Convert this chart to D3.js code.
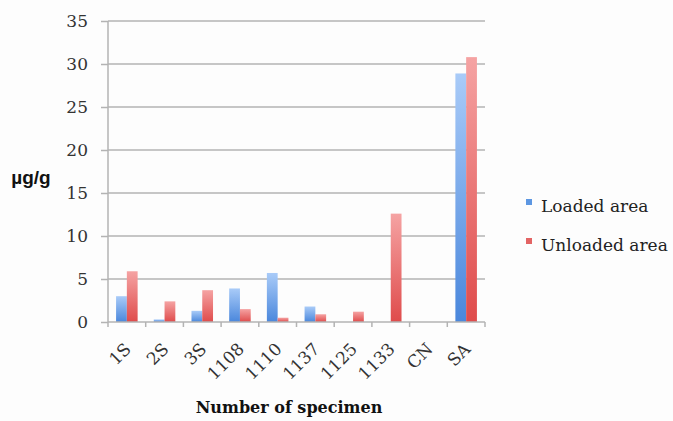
<!DOCTYPE html>
<html>
<head>
<meta charset="utf-8">
<script src="https://cdn.jsdelivr.net/npm/d3@7"></script>
<style>
  html, body { margin: 0; padding: 0; background: #fdfdfd; }
  svg { display: block; }
</style>
</head>
<body>
<script>
// Specimens and measured concentrations (µg/g)
const specimens = ["1S", "2S", "3S", "1108", "1110", "1137", "1125", "1133", "CN", "SA"];
const loadedArea = [3.0, 0.3, 1.3, 3.9, 5.7, 1.8, 0, 0, 0, 28.9];
const unloadedArea = [5.9, 2.4, 3.7, 1.5, 0.5, 0.9, 1.2, 12.6, 0, 30.8];
const seriesNames = ["Loaded area", "Unloaded area"];
const yTicks = [0, 5, 10, 15, 20, 25, 30, 35];

const W = 673, H = 421;
const margin = { left: 108, right: 188, top: 21, bottom: 99 };
const serif = "'DejaVu Serif', 'Liberation Serif', serif";

const svg = d3.select("body").append("svg").attr("width", W).attr("height", H);

const defs = svg.append("defs");
function grad(id, top, bottom) {
  const g = defs.append("linearGradient").attr("id", id)
    .attr("x1", 0).attr("y1", 0).attr("x2", 0).attr("y2", 1);
  g.append("stop").attr("offset", "0%").attr("stop-color", top);
  g.append("stop").attr("offset", "100%").attr("stop-color", bottom);
}
grad("gBlue", "#a9cbf8", "#4a87dc");
grad("gRed", "#f5a3a3", "#df4b4b");
const fills = ["url(#gBlue)", "url(#gRed)"];
const swatch = ["#5d97e2", "#e36464"];

const x = d3.scaleBand().domain(specimens).range([margin.left, W - margin.right]).padding(0);
const y = d3.scaleLinear().domain([0, 35]).range([H - margin.bottom, margin.top]);

const gridColor = "#b3b3b3";

// horizontal gridlines
svg.append("g").selectAll("line").data(yTicks.filter(d => d > 0)).join("line")
  .attr("x1", margin.left).attr("x2", W - margin.right)
  .attr("y1", d => y(d)).attr("y2", d => y(d))
  .attr("stroke", gridColor).attr("stroke-width", 1.5);

// bars: two per specimen, Excel-style gap of 150%
const bw = x.bandwidth() / 3.5;
const off = x.bandwidth() * 0.75 / 3.5;
const rows = specimens.map((s, i) => ({ s, vals: [loadedArea[i], unloadedArea[i]] }));
const grp = svg.append("g").selectAll("g").data(rows).join("g");
grp.selectAll("rect").data(d => d.vals.map((v, k) => ({ s: d.s, v, k }))).join("rect")
  .attr("x", d => x(d.s) + off + d.k * bw)
  .attr("width", bw)
  .attr("y", d => y(d.v))
  .attr("height", d => y(0) - y(d.v))
  .attr("fill", d => fills[d.k]);

// y axis
const yAxis = svg.append("g").attr("transform", `translate(${margin.left},0)`)
  .call(d3.axisLeft(y).tickValues(yTicks).tickSize(7).tickPadding(13));
yAxis.select(".domain").attr("stroke", gridColor).attr("stroke-width", 1.5).attr("d", `M0,${y(35)}V${y(0)}`);
yAxis.selectAll(".tick line").attr("stroke", gridColor).attr("stroke-width", 1.5);
yAxis.selectAll(".tick text")
  .attr("font-family", serif).attr("font-size", 17).attr("fill", "#333");

// x axis
const xAxis = svg.append("g").attr("transform", `translate(0,${y(0)})`)
  .call(d3.axisBottom(x).tickSize(0).tickPadding(0));
xAxis.select(".domain").attr("stroke", gridColor).attr("stroke-width", 1.5)
  .attr("d", `M${margin.left},0H${W - margin.right}`);
xAxis.selectAll(".tick text")
  .attr("font-family", serif).attr("font-size", 17).attr("fill", "#333")
  .attr("text-anchor", "end")
  .attr("transform", "translate(1,24) rotate(-45)")
  .attr("dy", "0.35em").attr("y", 0);
// category boundary ticks
const bounds = specimens.map(s => x(s)).concat([W - margin.right]);
xAxis.append("g").selectAll("line").data(bounds).join("line")
  .attr("x1", d => d).attr("x2", d => d).attr("y1", 0).attr("y2", 5)
  .attr("stroke", gridColor).attr("stroke-width", 1.5);

// axis titles
svg.append("text").attr("x", 31).attr("y", 184)
  .attr("text-anchor", "middle")
  .attr("font-family", "'Liberation Sans', Arial, sans-serif")
  .attr("font-weight", "bold").attr("font-size", 19).attr("fill", "#111")
  .text("µg/g");
svg.append("text").attr("x", 289).attr("y", 413)
  .attr("text-anchor", "middle")
  .attr("font-family", serif)
  .attr("font-weight", "bold").attr("font-size", 16).attr("fill", "#111")
  .text("Number of specimen");

// legend
const leg = svg.append("g").selectAll("g").data(seriesNames).join("g")
  .attr("transform", (d, i) => `translate(526,${212 + i * 39})`);
leg.append("rect").attr("x", 0).attr("y", -13).attr("width", 6).attr("height", 6)
  .attr("fill", (d, i) => swatch[i]);
leg.append("text").attr("x", 15).attr("y", 0)
  .attr("font-family", serif).attr("font-size", 17).attr("fill", "#222")
  .text(d => d);
</script>
</body>
</html>
